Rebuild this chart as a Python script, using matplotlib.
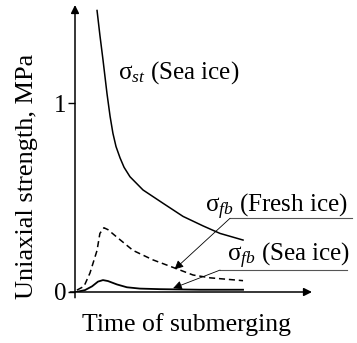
import matplotlib
matplotlib.use('Agg')
import matplotlib.pyplot as plt

# Strength curves vs. time of submerging (arbitrary time units)
sea_st_t = [0.93, 1.05, 1.18, 1.35, 1.48, 1.60, 1.73, 1.90, 2.07, 2.32, 2.87, 3.71, 4.56, 5.40, 6.12, 7.09]
sea_st_v = [1.49, 1.36, 1.23, 1.05, 0.93, 0.84, 0.77, 0.71, 0.66, 0.61, 0.54, 0.47, 0.40, 0.35, 0.31, 0.275]

fresh_fb_t = [0.08, 0.38, 0.63, 0.93, 1.05, 1.22, 1.39, 1.77, 2.45, 3.29, 4.14, 4.98, 5.70, 7.09]
fresh_fb_v = [0.01, 0.03, 0.10, 0.22, 0.31, 0.34, 0.33, 0.29, 0.22, 0.17, 0.13, 0.09, 0.075, 0.06]

sea_fb_t = [0.04, 0.42, 0.72, 0.97, 1.18, 1.39, 1.77, 2.19, 2.74, 3.59, 5.27, 7.09]
sea_fb_v = [0.0, 0.01, 0.03, 0.055, 0.063, 0.058, 0.04, 0.025, 0.018, 0.015, 0.012, 0.012]

yticks = [0, 1]
ytick_labels = ['0', '1']

plt.rcParams['font.family'] = ['Liberation Serif', 'DejaVu Serif']
plt.rcParams['mathtext.fontset'] = 'custom'
plt.rcParams['mathtext.rm'] = 'Liberation Serif'
plt.rcParams['mathtext.it'] = 'Liberation Serif:italic'

fig = plt.figure(figsize=(3.57, 3.43), dpi=100)
ax = fig.add_axes([75 / 357, 51 / 343, 237 / 357, 287 / 343])
ax.set_xlim(0, 10)
ax.set_ylim(0, 1.519)

ax.plot(sea_st_t, sea_st_v, color='black', lw=1.1)
ax.plot(fresh_fb_t, fresh_fb_v, color='black', lw=1.1, ls=(0, (4, 2.5)))
ax.plot(sea_fb_t, sea_fb_v, color='black', lw=1.3)

# axes drawn as arrows
for s in ax.spines.values():
    s.set_visible(False)
ax.annotate('', xy=(1.0, 0), xytext=(-0.02, 0), xycoords='axes fraction',
            arrowprops=dict(arrowstyle='-|>', color='black', lw=1.1,
                            mutation_scale=12, shrinkA=0, shrinkB=0))
ax.annotate('', xy=(0, 1.0), xytext=(0, -0.02), xycoords='axes fraction',
            arrowprops=dict(arrowstyle='-|>', color='black', lw=1.1,
                            mutation_scale=12, shrinkA=0, shrinkB=0))

ax.set_xticks([])
ax.set_yticks(yticks)
ax.set_yticklabels(ytick_labels)
ax.tick_params(axis='y', direction='out', length=5, width=1.0, pad=1, labelsize=18)

# curve labels
fs = 18
ax.text(1.81, 1.16, r'$\mathrm{σ}_{\mathit{st}}$ (Sea ice)', fontsize=fs,
        ha='left', va='center')
ax.text(5.5, 0.45, r'$\mathrm{σ}_{\mathit{fb}}$ (Fresh ice)', fontsize=fs,
        ha='left', va='center', clip_on=False)
ax.text(6.4, 0.19, r'$\mathrm{σ}_{\mathit{fb}}$ (Sea ice)', fontsize=fs,
        ha='left', va='center', clip_on=False)

# leader lines with underlines
ax.plot([6.54, 11.69], [0.39, 0.39], color='#555555', lw=0.8, clip_on=False)
ax.annotate('', xy=(4.2, 0.12), xytext=(6.54, 0.39),
            arrowprops=dict(arrowstyle='-|>', color='black', lw=0.6,
                            mutation_scale=13, shrinkA=0, shrinkB=0))
ax.plot([6.12, 11.48], [0.116, 0.116], color='#555555', lw=0.8, clip_on=False)
ax.annotate('', xy=(4.14, 0.02), xytext=(6.12, 0.116),
            arrowprops=dict(arrowstyle='-|>', color='black', lw=0.6,
                            mutation_scale=13, shrinkA=0, shrinkB=0))

fig.text(186 / 357, 1 - 325 / 343, 'Time of submerging', fontsize=18.5,
         ha='center', va='center')
fig.text(27 / 357, 1 - 176 / 343, 'Uniaxial strength, MPa', fontsize=19,
         ha='center', va='center', rotation=90)

fig.savefig('out.png', dpi=100)
